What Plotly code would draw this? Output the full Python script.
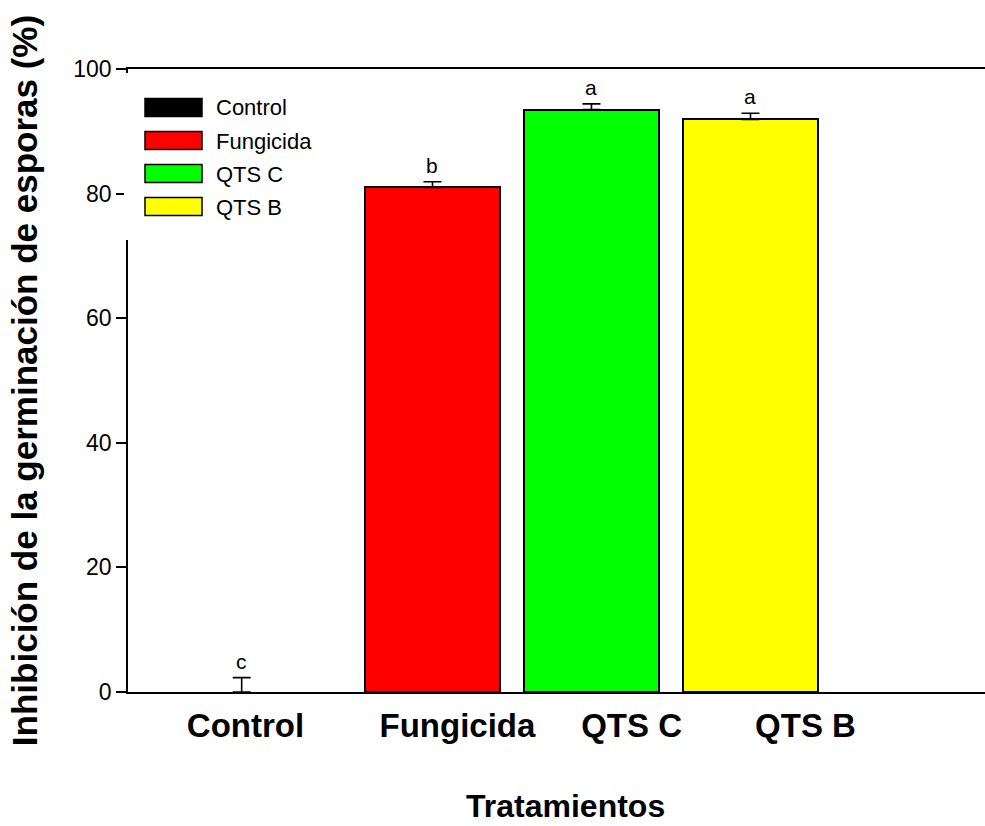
import plotly.graph_objects as go

# Treatment data: mean inhibition of spore germination (%) with standard error
categories = ["Control", "Fungicida", "QTS C", "QTS B"]
inhibition = [0.0, 81.0, 93.5, 91.9]
std_err = [2.3, 0.9, 0.9, 1.0]
letters = ["c", "b", "a", "a"]
colors = ["#000000", "#ff0000", "#00ff00", "#ffff00"]
y_ticks = [0, 20, 40, 60, 80, 100]

# Layout constants (x positions along a numeric category axis)
bar_pos = [0.8, 2.0, 3.0, 4.0]
label_pos = [0.824, 2.157, 3.252, 4.346]
bar_width = 0.85
x_range = [0.085, 5.475]

W, H = 985, 826
ML, MR, MT, MB = 128, 0, 69, 134
PW, PH = W - ML - MR, H - MT - MB

FONT = "Liberation Sans, Arial, sans-serif"


def px_x(p):
    return (p - ML) / PW


def px_y(p):
    return (H - MB - p) / PH


# Zero-height bars get no outline so only the axis line shows at the baseline
outline_w = [2 if v > 0 else 0 for v in inhibition]

fig = go.Figure()
fig.add_trace(go.Bar(
    x=bar_pos,
    y=inhibition,
    width=bar_width,
    marker=dict(color=colors, line=dict(color="black", width=outline_w)),
    error_y=dict(type="data", array=std_err, arrayminus=[0] * len(std_err),
                 symmetric=False, color="black", thickness=1.6, width=9),
    showlegend=False,
    hoverinfo="skip",
))

# Significance letters above each error bar
for xp, v, e, t in zip(bar_pos, inhibition, std_err, letters):
    fig.add_annotation(x=xp, y=v + e, xref="x", yref="y", text=t,
                       showarrow=False, yanchor="bottom", yshift=3,
                       font=dict(family=FONT, size=21, color="black"))

# Legend box drawn over the plot area
shapes = [dict(type="rect", xref="paper", yref="paper", layer="above",
               x0=px_x(124), x1=px_x(330), y0=px_y(240), y1=px_y(73),
               fillcolor="white", line=dict(width=0))]
row_top = 98.5
row_step = 33
for i, (name, col) in enumerate(zip(categories, colors)):
    top = row_top + i * row_step
    shapes.append(dict(type="rect", xref="paper", yref="paper", layer="above",
                       x0=px_x(145), x1=px_x(202), y0=px_y(top + 18), y1=px_y(top),
                       fillcolor=col, line=dict(color="black", width=1.5)))
    fig.add_annotation(x=px_x(214), y=px_y(top + 9.5), xref="paper", yref="paper",
                       text=name, showarrow=False, xanchor="left", yanchor="middle",
                       font=dict(family=FONT, size=22, color="black"))

# X-axis title
fig.add_annotation(x=px_x(565), y=px_y(806), xref="paper", yref="paper",
                   text="<b>Tratamientos</b>", showarrow=False,
                   xanchor="center", yanchor="middle",
                   font=dict(family=FONT, size=32, color="black"))

fig.update_layout(
    width=W, height=H,
    margin=dict(l=ML, r=MR, t=MT, b=MB),
    plot_bgcolor="white", paper_bgcolor="white",
    shapes=shapes,
    bargap=0,
    xaxis=dict(
        range=x_range, showgrid=False, zeroline=False,
        showline=True, mirror=True, linecolor="black", linewidth=1.6,
        tickmode="array", tickvals=label_pos, ticktext=categories, ticks="",
        ticklabelstandoff=4,
        tickfont=dict(family=FONT, size=33, color="black", weight="bold"),
    ),
    yaxis=dict(
        range=[0, 100], showgrid=False, zeroline=False,
        showline=True, linecolor="black", linewidth=1.6,
        tickmode="array", tickvals=y_ticks,
        ticks="outside", ticklen=10, tickwidth=1.6, tickcolor="black",
        tickfont=dict(family=FONT, size=23, color="black"),
        title=dict(text="<b>Inhibición de la germinación de esporas (%)</b>", standoff=25,
                   font=dict(family=FONT, size=35, color="black")),
    ),
)

fig.write_html("out.html")
